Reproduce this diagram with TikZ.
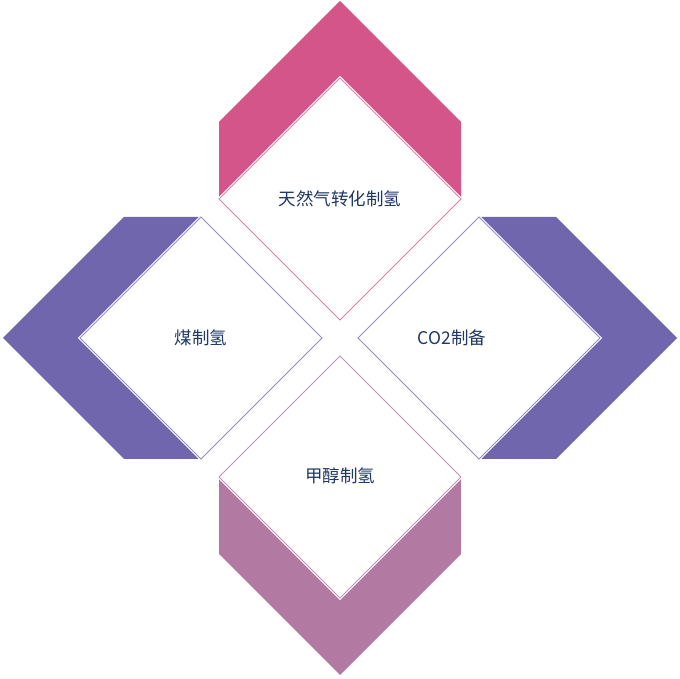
\documentclass[tikz,border=0pt]{standalone}
\usepackage{fontspec}
\newfontfamily\cjk{Noto Sans CJK SC}
\usetikzlibrary{shapes.geometric,backgrounds}
\definecolor{rose}{HTML}{D4558A}
\definecolor{violet}{HTML}{7066AE}
\definecolor{mauve}{HTML}{B27AA2}
\definecolor{navy}{HTML}{203864}
\tikzset{
  tile/.style={shape=diamond, minimum width=242pt, minimum height=242pt, inner sep=0pt, outer sep=0pt, fill=white, line width=0.8pt, preaction={draw=white, line width=3pt}},
  caption/.style={text=navy, font=\cjk\fontsize{17.5}{20}\selectfont}
}
\begin{document}
\begin{tikzpicture}[x=1pt, y=1pt]
  \useasboundingbox (0,0) rectangle (680,679);
  \node[tile, draw=rose!75] (gas) at (340,480) {};
  \node[tile, draw=violet!75] (coal) at (201,341) {};
  \node[tile, draw=violet!75] (co2) at (479,341) {};
  \node[tile, draw=mauve!80] (meoh) at (340,202) {};
  \begin{scope}[on background layer]
    \fill[rose] (gas.west) -- ++(0,77) -- ++(121,121) -- ++(121,-121) -- (gas.east) -- (gas.north) -- cycle;
    \fill[violet] (coal.north) -- ++(-77,0) -- ++(-121,-121) -- ++(121,-121) -- (coal.south) -- (coal.west) -- cycle;
    \fill[violet] (co2.north) -- ++(77,0) -- ++(121,-121) -- ++(-121,-121) -- (co2.south) -- (co2.east) -- cycle;
    \fill[mauve] (meoh.west) -- ++(0,-77) -- ++(121,-121) -- ++(121,121) -- (meoh.east) -- (meoh.south) -- cycle;
  \end{scope}
  \node[caption] (gaslabel) at (340,480) {天然气转化制氢};
  \node[caption] (coallabel) at (201,341) {煤制氢};
  \node[caption] (co2label) at (452,341) {CO2制备};
  \node[caption] (meohlabel) at (340,203) {甲醇制氢};
\end{tikzpicture}
\end{document}
